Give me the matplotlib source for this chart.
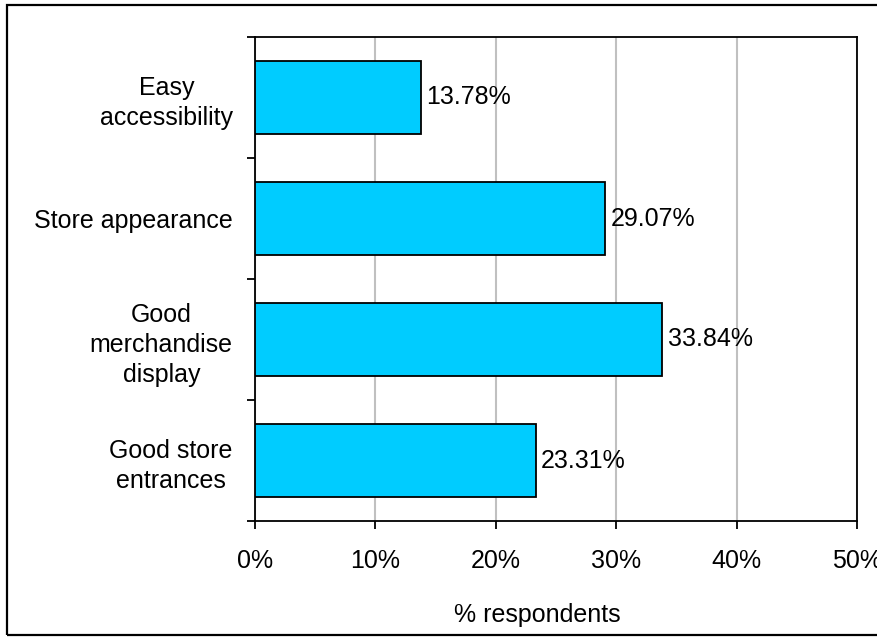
import matplotlib.pyplot as plt
from matplotlib.patches import Rectangle
from matplotlib.ticker import FixedLocator

plt.rcParams['font.family'] = ['Liberation Sans', 'DejaVu Sans']

# categories top to bottom
categories = ['Easy\naccessibility', 'Store appearance',
              'Good\nmerchandise\ndisplay', 'Good store\nentrances']
values = [13.78, 29.07, 33.84, 23.31]
xticks = [0, 10, 20, 30, 40, 50]
xtick_labels = ['0%', '10%', '20%', '30%', '40%', '50%']

fig = plt.figure(figsize=(8.78, 6.39), dpi=100)
ax = fig.add_axes([255 / 878, 1 - 521 / 639, 602 / 878, 484 / 639])

y = list(range(len(categories)))
ax.barh(y, values, height=0.6, color='#00CCFF', edgecolor='black', linewidth=1.3, zorder=3)

for yi, v in zip(y, values):
    ax.annotate(f'{v:.2f}%', xy=(v, yi), xytext=(4, 0), textcoords='offset points',
                ha='left', va='center', fontsize=18, zorder=4)

ax.set_xlim(0, 50)
ax.set_ylim(3.5, -0.5)
ax.set_xticks(xticks)
ax.set_xticklabels(xtick_labels, fontsize=18)
ax.tick_params(axis='x', direction='out', length=6, width=1.3, pad=14)

# labels at the bar centres, tick marks at the category boundaries
ax.set_yticks(y)
ax.set_yticklabels(categories, fontsize=18, multialignment='center', linespacing=1.3)
ax.tick_params(axis='y', which='major', length=0, pad=16)
ax.yaxis.set_minor_locator(FixedLocator([-0.5, 0.5, 1.5, 2.5, 3.5]))
ax.tick_params(axis='y', which='minor', direction='out', length=6, width=1.3)

ax.grid(axis='x', color='#C0C0C0', linewidth=1.5, zorder=0)
ax.set_axisbelow(True)
for s in ax.spines.values():
    s.set_color('black')
    s.set_linewidth(1.3)

fig.text(537 / 878, 1 - 615 / 639, '% respondents', ha='center', va='center', fontsize=18)

# outer frame
fig.patches.append(Rectangle((7 / 878, 1 - 635 / 639), 1.0, 630 / 639, transform=fig.transFigure,
                             fill=False, edgecolor='black', linewidth=1.6))

fig.savefig('out.png', dpi=100)
